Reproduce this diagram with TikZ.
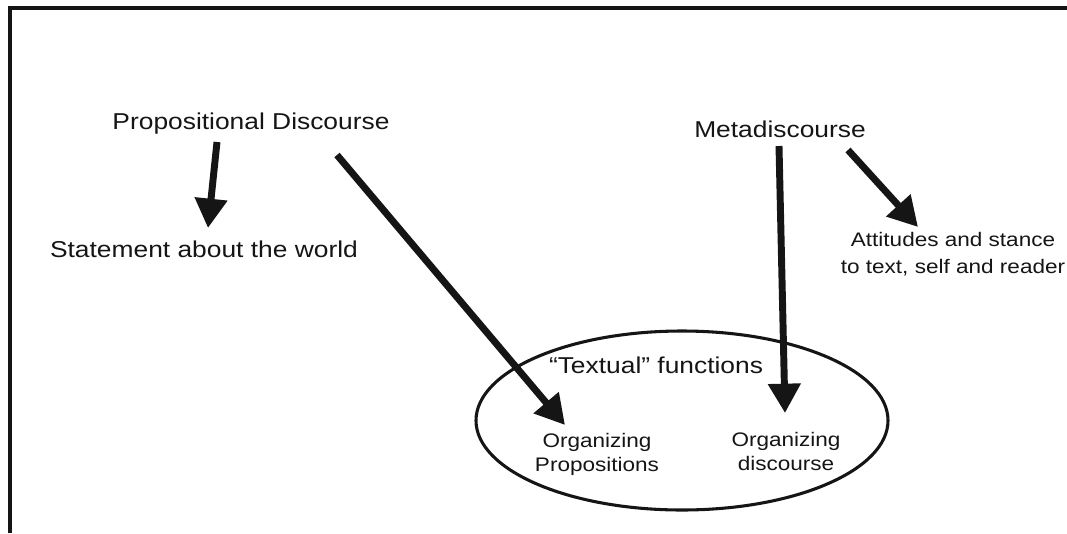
\documentclass[tikz,border=0pt]{standalone}
\usepackage{fontspec}
\setmainfont{Liberation Sans}[FakeStretch=1.15]
\usetikzlibrary{arrows.meta,shapes.geometric}
\definecolor{ink}{HTML}{151515}
\tikzset{
  big/.style={font=\fontsize{17.2}{20}\selectfont, text=ink, inner sep=0pt, anchor=base},
  small/.style={font=\fontsize{14.7}{18}\selectfont, text=ink, inner sep=0pt, anchor=base, align=center},
  fatarrow/.style={draw=ink, line width=5.2pt, -{Triangle[length=22pt,width=23.5pt]}},
  frameline/.style={draw=ink, line width=3pt},
  ovalbox/.style={draw=ink, line width=2.3pt, ellipse, inner sep=0pt, minimum width=309pt, minimum height=134.25pt},
}
\begin{document}
\begin{tikzpicture}[x=0.75pt,y=-0.75pt]
\useasboundingbox (0,0) rectangle (1067,533);
% frame (top and left only)
\coordinate (fl) at (10,533);
\coordinate (fc) at (10,8);
\coordinate (fr) at (1067,8);
\draw[frameline] (fl) -- (fc) -- (fr);
% labels
\node[big] (pd) at (251,129) {Propositional Discourse};
\node[big] (st) at (204,257) {Statement about the world};
\node[big] (md) at (780,137) {Metadiscourse};
\node[small] (att) at (953,273) {Attitudes and stance\\[1.6pt]to text, self and reader};
\node[ovalbox] (ell) at (682,420.5) {};
\node[big] (tf) at (656,373) {``Textual'' functions};
\node[small, font=\fontsize{14.7}{17.3}\selectfont] (op) at (597,471) {Organizing\\Propositions};
\node[small, font=\fontsize{14.7}{17.3}\selectfont] (od) at (786,470) {Organizing\\discourse};
% arrow end points
\coordinate (a1s) at (217,142);
\coordinate (a1e) at (208,228);
\coordinate (a2s) at (337,155);
\coordinate (a2e) at (565,425);
\coordinate (a3s) at (779,146);
\coordinate (a3e) at (785,413);
\coordinate (a4s) at (848,150);
\coordinate (a4e) at (918,227);
\draw[fatarrow] (a1s) -- (a1e);
\draw[fatarrow] (a2s) -- (a2e);
\draw[fatarrow] (a3s) -- (a3e);
\draw[fatarrow] (a4s) -- (a4e);
\end{tikzpicture}
\end{document}
